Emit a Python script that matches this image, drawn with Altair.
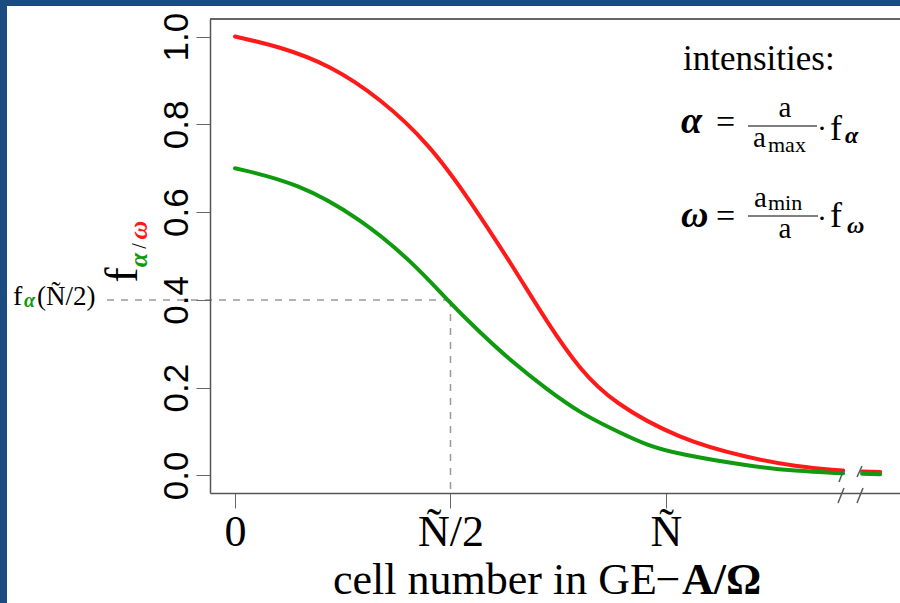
import altair as alt
import pandas as pd

# ---- data (x in units of Ñ) ----
red_x = [0.0, 0.104, 0.22, 0.336, 0.452, 0.545, 0.645, 0.724, 0.800, 0.877, 1.032, 1.188, 1.30, 1.411]
red_y = [1.0, 0.977, 0.935, 0.860, 0.754, 0.627, 0.476, 0.349, 0.241, 0.166, 0.082, 0.041, 0.020, 0.011]
red_x2 = [1.455, 1.497]
red_y2 = [0.009, 0.008]

green_x = [0.0, 0.144, 0.290, 0.413, 0.492, 0.568, 0.645, 0.724, 0.800, 0.877, 0.956, 1.032, 1.188, 1.30, 1.411]
green_y = [0.70, 0.667, 0.586, 0.485, 0.400, 0.326, 0.257, 0.196, 0.143, 0.105, 0.068, 0.048, 0.022, 0.010, 0.005]
green_x2 = [1.455, 1.497]
green_y2 = [0.004, 0.003]

x_tick_values = [0.0, 0.5, 1.0]
x_tick_labels = ["0", "Ñ/2", "Ñ"]
y_tick_values = [0.0, 0.2, 0.4, 0.6, 0.8, 1.0]

half_x = 0.5
half_y = 0.4
dash_start_x = -0.297

X_DOMAIN = [-0.058, 1.543]
Y_DOMAIN = [-0.04, 1.04]
W, H = 690, 474
OX, OY = 210, 19  # plot origin on the page

SERIF = "Liberation Serif"
SANS = "Liberation Sans"
BLUE = "#1a4c82"
RED = "#ff1a1a"
GREEN = "#0f9a0f"


def curve_df(xs, ys, xs2, ys2):
    return pd.DataFrame({
        "x": xs + xs2,
        "y": ys + ys2,
        "seg": [0] * len(xs) + [1] * len(xs2),
    })


xs = alt.Scale(domain=X_DOMAIN, nice=False, zero=False)
ys = alt.Scale(domain=Y_DOMAIN, nice=False, zero=False)

label_expr = " : ".join(
    f"datum.value == {v} ? '{t}'" for v, t in zip(x_tick_values, x_tick_labels)
) + " : ''"

one = pd.DataFrame({"d": [0]})


def px(X):
    return X - OX


def py(Y):
    return Y - OY


def txt(text, X, Y, size, color="black", weight="normal", style="normal",
        align="left", angle=0, font=SERIF, baseline="alphabetic"):
    return alt.Chart(one).mark_text(
        text=text, font=font, fontSize=size, color=color, fontWeight=weight,
        fontStyle=style, align=align, baseline=baseline, angle=angle,
    ).encode(x=alt.value(px(X)), y=alt.value(py(Y)))


def seg(X1, Y1, X2, Y2, color="#555a66", width=1.5):
    return alt.Chart(one).mark_rule(color=color, strokeWidth=width).encode(
        x=alt.value(px(X1)), y=alt.value(py(Y1)),
        x2=alt.value(px(X2)), y2=alt.value(py(Y2)))


def box(X1, Y1, X2, Y2, color="white"):
    return alt.Chart(one).mark_rect(color=color).encode(
        x=alt.value(px(X1)), y=alt.value(py(Y1)),
        x2=alt.value(px(X2)), y2=alt.value(py(Y2)))


panel = box(7, 6, 900, 603)

red_df = curve_df(red_x, red_y, red_x2, red_y2)
green_df = curve_df(green_x, green_y, green_x2, green_y2)

base_axes = alt.Chart(pd.DataFrame({"x": [0.0], "y": [0.0]})).mark_point(opacity=0).encode(
    x=alt.X("x:Q", scale=xs, axis=alt.Axis(
        values=x_tick_values, labelExpr=label_expr, title=None, grid=False,
        labelFont=SERIF, labelFontSize=44, labelColor="black",
        tickSize=15, tickColor="#666", domainColor="#555", domainWidth=1.5,
        labelPadding=2, labelBaseline="top", labelFlush=False, zindex=1)),
    y=alt.Y("y:Q", scale=ys, axis=alt.Axis(
        values=y_tick_values, format=".1f", title=None, grid=False,
        labelFont=SANS, labelFontSize=35, labelColor="black", labelAngle=270,
        labelAlign="center", labelBaseline="alphabetic", labelPadding=9,
        tickSize=14, tickColor="#666", domainColor="#555", domainWidth=1.5,
        labelFlush=False, zindex=1)),
)

red_line = alt.Chart(red_df).mark_line(
    color=RED, strokeWidth=4, interpolate="basis", strokeCap="round"
).encode(x=alt.X("x:Q", scale=xs), y=alt.Y("y:Q", scale=ys), detail="seg:N")

green_line = alt.Chart(green_df).mark_line(
    color=GREEN, strokeWidth=4, interpolate="basis", strokeCap="round"
).encode(x=alt.X("x:Q", scale=xs), y=alt.Y("y:Q", scale=ys), detail="seg:N")

guide_df = pd.DataFrame({
    "x": [dash_start_x, half_x], "x2": [half_x, half_x],
    "y": [half_y, half_y], "y2": [half_y, Y_DOMAIN[0]],
})
guides = alt.Chart(guide_df).mark_rule(
    color="#999999", strokeWidth=1.5, strokeDash=[7, 7]
).encode(x=alt.X("x:Q", scale=xs), x2="x2:Q",
         y=alt.Y("y:Q", scale=ys), y2="y2:Q")

top_line = seg(OX, OY, 900, OY, color="#333333", width=1.5)

breaks = [
    box(845, 489, 857, 497),
    seg(839, 482, 844, 469), seg(857, 477, 862, 466),
    seg(838, 503, 844, 488), seg(857, 503, 863, 488),
]

# annotation texts
texts = [
    txt("intensities:", 683, 70, 35),
    # alpha line
    txt("α", 681, 133, 38, weight="bold", style="italic"),
    txt("=", 716, 133, 34),
    txt("a", 785, 117, 29, align="center"),
    seg(748, 126, 817, 126, color="black", width=1.2),
    txt("a", 753, 147, 29),
    txt("max", 768, 152, 22),
    txt("·", 822, 138, 30, align="center"),
    txt("f", 830, 140, 36),
    txt("α", 845, 143, 24, weight="bold", style="italic"),
    # omega line
    txt("ω", 681, 227, 38, weight="bold", style="italic"),
    txt("=", 716, 227, 34),
    txt("a", 754, 207, 29),
    txt("min", 768, 210, 22),
    seg(748, 216, 818, 216, color="black", width=1.2),
    txt("a", 785, 238, 29, align="center"),
    txt("·", 822, 228, 30, align="center"),
    txt("f", 830, 227, 36),
    txt("ω", 847, 233, 24, weight="bold", style="italic"),
    # left label f_alpha(N/2)
    txt("f", 13, 305, 28),
    txt("α", 24, 307, 20, color=GREEN, weight="bold", style="italic"),
    txt("(Ñ/2)", 37, 305, 27),
    # y title f_{alpha/omega}
    txt("f", 137, 275, 46, align="center", angle=270),
    txt("α", 147, 260, 26, color=GREEN, weight="bold", style="italic", align="center", angle=270),
    txt("/", 146, 246, 20, align="center", angle=270),
    txt("ω", 147, 230, 26, color=RED, weight="bold", style="italic", align="center", angle=270),
    # x title
    txt("cell number in GE", 333, 594, 44),
    txt("−", 668, 594, 44, align="center"),
    txt("A/Ω", 682, 594, 44, weight="bold"),
]

chart = alt.layer(
    panel, guides, red_line, green_line, base_axes, top_line, *breaks, *texts
).properties(
    width=W, height=H, background=BLUE,
    padding={"left": OX, "top": OY, "right": 900 - OX - W, "bottom": 603 - OY - H},
    autosize=alt.AutoSizeParams(type="none"),
).configure_view(stroke=None)

chart.save("out.html", embed_options={"renderer": "svg", "actions": False})
